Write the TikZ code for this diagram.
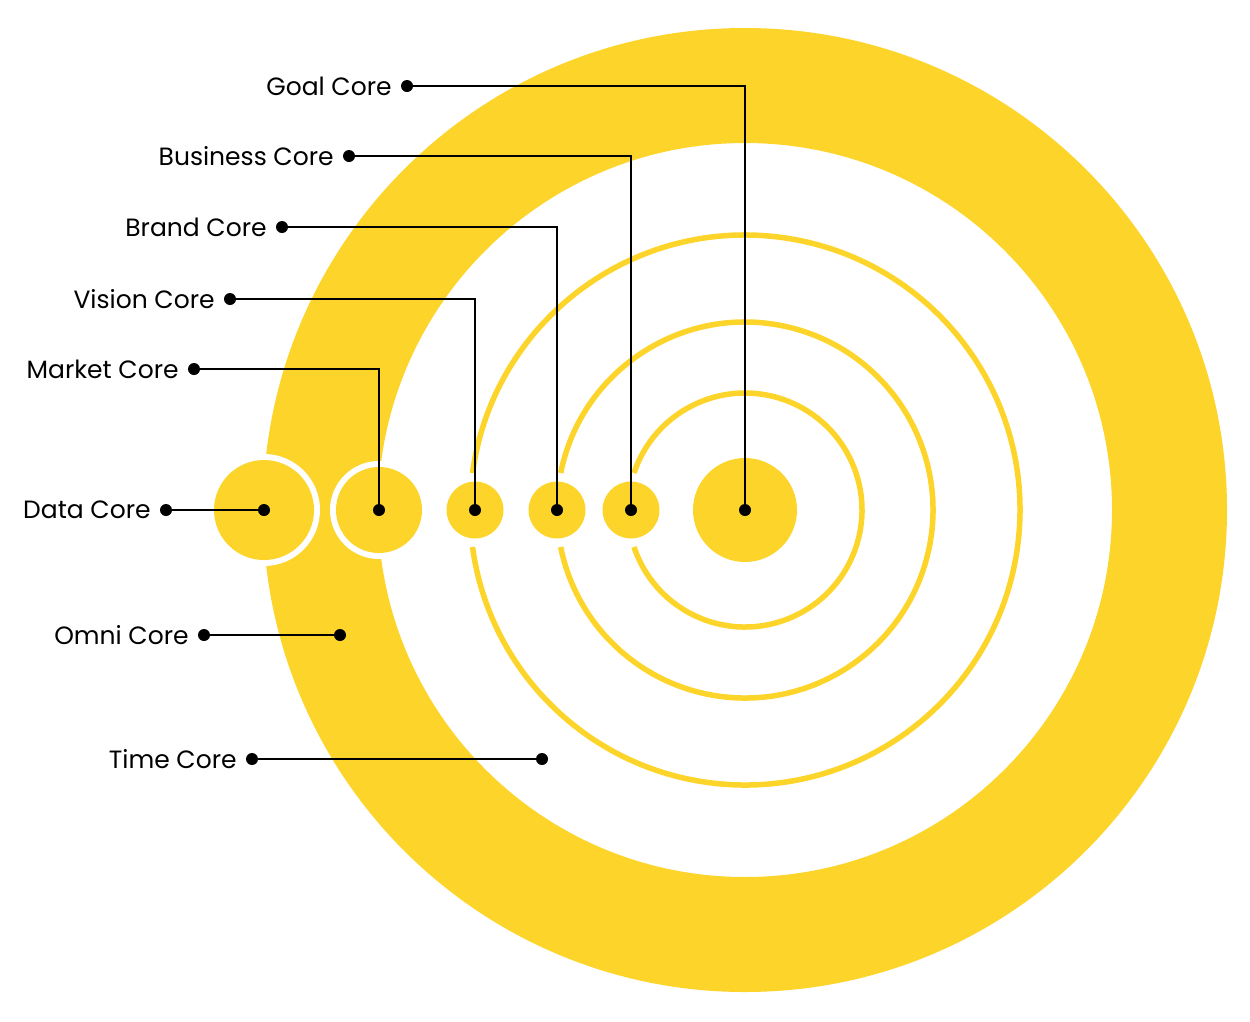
\documentclass[tikz,border=0pt]{standalone}
\usepackage{fontspec}
\setmainfont{Poppins}
\usepackage{tikz}
\usetikzlibrary{positioning}
\definecolor{coreyellow}{RGB}{253,212,42}

\begin{document}
\begin{tikzpicture}[x=1pt,y=-1pt,
    core/.style={circle, fill=coreyellow, inner sep=0pt},
    gapring/.style={circle, fill=white, inner sep=0pt},
    orbit/.style={draw=coreyellow, line width=5.5pt},
    dot/.style={circle, fill=black, inner sep=0pt, minimum size=12pt},
    wire/.style={line width=2.6pt},
    lbl/.style={inner sep=0pt, font=\fontsize{25}{30}\selectfont}]
    \useasboundingbox (0,0) rectangle (1250,1021);
    \coordinate (c) at (745,510);

    % Outer band
    \fill[coreyellow, even odd rule] (c) circle (482) (c) circle (367);

    % Thin orbits, open on the left
    \draw[orbit] (c) ++({180+asin(37/275)}:275) arc[start angle={180+asin(37/275)}, delta angle={360-2*asin(37/275)}, radius=275];
    \draw[orbit] (c) ++({180+asin(37/188)}:188) arc[start angle={180+asin(37/188)}, delta angle={360-2*asin(37/188)}, radius=188];
    \draw[orbit] (c) ++({180+asin(37/117)}:117) arc[start angle={180+asin(37/117)}, delta angle={360-2*asin(37/117)}, radius=117];

    % Cores
    \node[gapring, minimum size=112pt] at (264,510) {};
    \node[core, minimum size=100pt] (data) at (264,510) {};
    \node[gapring, minimum size=98pt] at (379,510) {};
    \node[core, minimum size=86pt] (market) at (379,510) {};
    \node[core, minimum size=57pt] (vision) at (475,510) {};
    \node[core, minimum size=57pt] (brand) at (557,510) {};
    \node[core, minimum size=57pt] (business) at (631,510) {};
    \node[core, minimum size=104pt] (goal) at (c) {};

    % Label dots
    \node[dot] (goaldot) at (407,86) {};
    \node[dot] (businessdot) at (349,156) {};
    \node[dot] (branddot) at (282,227) {};
    \node[dot] (visiondot) at (230,299) {};
    \node[dot] (marketdot) at (194,369) {};
    \node[dot] (datadot) at (166,510) {};
    \node[dot] (omnidot) at (204,635) {};
    \node[dot] (timedot) at (252,759) {};

    % Labels
    \node[lbl, left=9pt of goaldot] {Goal Core};
    \node[lbl, left=9pt of businessdot] {Business Core};
    \node[lbl, left=9pt of branddot] {Brand Core};
    \node[lbl, left=9pt of visiondot] {Vision Core};
    \node[lbl, left=9pt of marketdot] {Market Core};
    \node[lbl, left=9pt of datadot] {Data Core};
    \node[lbl, left=9pt of omnidot] {Omni Core};
    \node[lbl, left=9pt of timedot] {Time Core};

    % Leader lines
    \draw[wire] (goaldot.center) -| (goal.center);
    \draw[wire] (businessdot.center) -| (business.center);
    \draw[wire] (branddot.center) -| (brand.center);
    \draw[wire] (visiondot.center) -| (vision.center);
    \draw[wire] (marketdot.center) -| (market.center);
    \draw[wire] (datadot.center) -- (data.center);
    \node[dot] (omniend) at (340,635) {};
    \node[dot] (timeend) at (542,759) {};
    \draw[wire] (omnidot) -- (omniend);
    \draw[wire] (timedot) -- (timeend);

    % End dots on the cores
    \node[dot] at (goal.center) {};
    \node[dot] at (business.center) {};
    \node[dot] at (brand.center) {};
    \node[dot] at (vision.center) {};
    \node[dot] at (market.center) {};
    \node[dot] at (data.center) {};
\end{tikzpicture}
\end{document}
